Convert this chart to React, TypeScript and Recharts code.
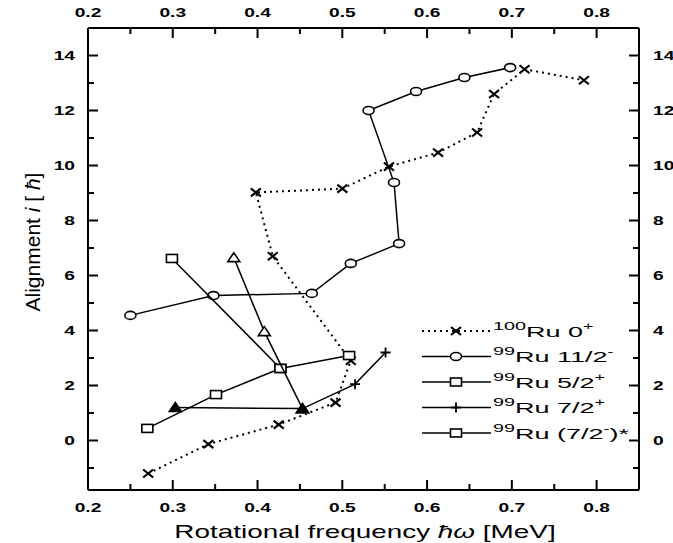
import { ScatterChart, Scatter, XAxis, YAxis } from "recharts";

const W = 673;
const H = 543;

// 100Ru 0+ band (crosses, dotted line)
const ru100X = [0.271, 0.342, 0.425, 0.492, 0.51, 0.418, 0.398, 0.5, 0.555, 0.613, 0.659, 0.679, 0.715, 0.785];
const ru100Y = [-1.2, -0.13, 0.58, 1.38, 2.9, 6.7, 9.02, 9.16, 9.96, 10.47, 11.2, 12.6, 13.5, 13.1];

// 99Ru 11/2- (open circles)
const h11X = [0.25, 0.348, 0.464, 0.51, 0.567, 0.561, 0.531, 0.587, 0.644, 0.698];
const h11Y = [4.55, 5.27, 5.35, 6.44, 7.16, 9.38, 12.0, 12.69, 13.2, 13.56];

// 99Ru 5/2+ (open squares)
const d5X = [0.27, 0.351, 0.427, 0.508];
const d5Y = [0.44, 1.67, 2.62, 3.09];

// 99Ru (7/2-)* (open squares)
const f7X = [0.299, 0.427];
const f7Y = [6.62, 2.62];

// triangles, no legend entry
const triX = [0.372, 0.408, 0.453];
const triY = [6.65, 3.96, 1.16];
const triKind = ["tri", "tri", "triFill"];

// 99Ru 7/2+ (plus, starts on the filled triangles)
const g7X = [0.303, 0.453, 0.515, 0.551];
const g7Y = [1.2, 1.16, 2.05, 3.2];
const g7Kind = ["triFill", "triFill", "plus", "plus"];

const xTicks = [0.2, 0.25, 0.3, 0.35, 0.4, 0.45, 0.5, 0.55, 0.6, 0.65, 0.7, 0.75, 0.8];
const yTicks = [-1, 0, 1, 2, 3, 4, 5, 6, 7, 8, 9, 10, 11, 12, 13, 14];

const FONT = "'Liberation Sans', Arial, sans-serif";

function zip(xs: number[], ys: number[], kind: string | string[]) {
  return xs.map((x, i) => ({
    x,
    y: ys[i],
    kind: Array.isArray(kind) ? kind[i] : kind,
  }));
}

function mark(kind: string, cx: number, cy: number) {
  switch (kind) {
    case "cross":
      return (
        <path
          d={`M${cx - 5},${cy - 4}L${cx + 5},${cy + 4}M${cx - 5},${cy + 4}L${cx + 5},${cy - 4}`}
          stroke="#000"
          strokeWidth={2.2}
        />
      );
    case "circle":
      return <ellipse cx={cx} cy={cy} rx={5.5} ry={4} fill="#fff" stroke="#000" strokeWidth={1.6} />;
    case "square":
      return <rect x={cx - 5.5} y={cy - 4} width={11} height={8} fill="#fff" stroke="#000" strokeWidth={1.6} />;
    case "tri":
    case "triFill":
      return (
        <polygon
          points={`${cx},${cy - 5} ${cx + 6},${cy + 4} ${cx - 6},${cy + 4}`}
          fill={kind === "triFill" ? "#000" : "#fff"}
          stroke="#000"
          strokeWidth={1.6}
        />
      );
    case "plus":
      return (
        <path
          d={`M${cx - 5},${cy}L${cx + 5},${cy}M${cx},${cy - 5}L${cx},${cy + 5}`}
          stroke="#000"
          strokeWidth={1.8}
        />
      );
  }
  return null;
}

const shape = (p: any) => mark(p.payload.kind, p.cx, p.cy);

function XTick(props: any) {
  const { x, y, payload, side } = props;
  const v = payload.value as number;
  const major = Math.abs(v * 10 - Math.round(v * 10)) < 1e-6;
  const len = major ? 10 : 6;
  const dir = side === "bottom" ? -1 : 1;
  return (
    <g>
      <line x1={x} y1={y} x2={x} y2={y + dir * len} stroke="#000" strokeWidth={2} />
      {major && (
        <text
          transform={`translate(${x},${side === "bottom" ? y + 22 : y - 11}) scale(1.6,1)`}
          textAnchor="middle"
          fontSize={12}
          fontWeight="bold"
          fontFamily={FONT}
          fill="#000"
        >
          {v.toFixed(1)}
        </text>
      )}
    </g>
  );
}

function YTick(props: any) {
  const { x, y, payload, side } = props;
  const v = payload.value as number;
  const major = v % 2 === 0;
  const len = major ? 10 : 6;
  const dir = side === "left" ? 1 : -1;
  return (
    <g>
      <line x1={x} y1={y} x2={x + dir * len} y2={y} stroke="#000" strokeWidth={2} />
      {major && (
        <text
          transform={`translate(${side === "left" ? x - 13 : x + 14},${y + 4.5}) scale(1.6,1)`}
          textAnchor={side === "left" ? "end" : "start"}
          fontSize={12}
          fontWeight="bold"
          fontFamily={FONT}
          fill="#000"
        >
          {v}
        </text>
      )}
    </g>
  );
}

const legendRows = [
  { kind: "cross", dotted: true, mass: "100", name: "Ru 0", sup: "+" },
  { kind: "circle", dotted: false, mass: "99", name: "Ru 11/2", sup: "-" },
  { kind: "square", dotted: false, mass: "99", name: "Ru 5/2", sup: "+" },
  { kind: "plus", dotted: false, mass: "99", name: "Ru 7/2", sup: "+" },
  { kind: "square", dotted: false, mass: "99", name: "Ru (7/2", sup: "-", tail: ")*" },
];

export default function App() {
  const axisLine = { stroke: "#000", strokeWidth: 2 };
  const series = [
    { data: zip(ru100X, ru100Y, "cross"), dash: "2 4" },
    { data: zip(h11X, h11Y, "circle") },
    { data: zip(d5X, d5Y, "square") },
    { data: zip(f7X, f7Y, "square") },
    { data: zip(triX, triY, triKind) },
    { data: zip(g7X, g7Y, g7Kind) },
  ];
  return (
    <div style={{ position: "absolute", left: 0, top: 0, width: W, height: H, background: "#fff" }}>
      <ScatterChart width={W} height={H} margin={{ top: 0, right: 0, bottom: 0, left: 0 }}>
        <XAxis
          xAxisId="b"
          type="number"
          dataKey="x"
          orientation="bottom"
          domain={[0.2, 0.85]}
          allowDataOverflow
          ticks={xTicks}
          interval={0}
          height={53}
          axisLine={axisLine}
          tickLine={false}
          tickSize={0}
          tickMargin={0}
          tick={<XTick side="bottom" />}
        />
        <XAxis
          xAxisId="t"
          type="number"
          dataKey="x"
          orientation="top"
          domain={[0.2, 0.85]}
          allowDataOverflow
          ticks={xTicks}
          interval={0}
          height={28}
          axisLine={axisLine}
          tickLine={false}
          tickSize={0}
          tickMargin={0}
          tick={<XTick side="top" />}
        />
        <YAxis
          yAxisId="l"
          type="number"
          dataKey="y"
          orientation="left"
          domain={[-1.8, 15]}
          allowDataOverflow
          ticks={yTicks}
          interval={0}
          width={88}
          axisLine={axisLine}
          tickLine={false}
          tickSize={0}
          tickMargin={0}
          tick={<YTick side="left" />}
        />
        <YAxis
          yAxisId="r"
          type="number"
          dataKey="y"
          orientation="right"
          domain={[-1.8, 15]}
          allowDataOverflow
          ticks={yTicks}
          interval={0}
          width={34}
          axisLine={axisLine}
          tickLine={false}
          tickSize={0}
          tickMargin={0}
          tick={<YTick side="right" />}
        />
        {series.map((s, i) => (
          <Scatter
            key={i}
            xAxisId="b"
            yAxisId="l"
            data={s.data}
            line={{ stroke: "#000", strokeWidth: s.dash ? 2 : 1.5, strokeDasharray: s.dash }}
            shape={shape}
            isAnimationActive={false}
          />
        ))}
      </ScatterChart>
      <svg
        width={W}
        height={H}
        style={{ position: "absolute", left: 0, top: 0, pointerEvents: "none" }}
      >
        {legendRows.map((r, i) => {
          const y = 331 + i * 25.5;
          return (
            <g key={i}>
              <line
                x1={422}
                x2={491}
                y1={y}
                y2={y}
                stroke="#000"
                strokeWidth={r.dotted ? 2 : 1.5}
                strokeDasharray={r.dotted ? "2 4" : undefined}
              />
              {mark(r.kind, 456, y)}
              <text
                transform={`translate(493,${y + 5.5}) scale(1.8,1)`}
                fontFamily={FONT}
                fontSize={15}
                fill="#000"
              >
                <tspan fontSize={11} dy={-7}>
                  {r.mass}
                </tspan>
                <tspan dy={7}>{r.name}</tspan>
                <tspan fontSize={10} dy={-7}>
                  {r.sup}
                </tspan>
                {r.tail && <tspan dy={7}>{r.tail}</tspan>}
              </text>
            </g>
          );
        })}
        <text
          transform="translate(365,538) scale(1.55,1)"
          textAnchor="middle"
          fontFamily={FONT}
          fontSize={18}
          fill="#000"
        >
          Rotational frequency <tspan fontStyle="italic">ħω</tspan> [MeV]
        </text>
        <text
          transform="translate(40,242) rotate(-90)"
          textAnchor="middle"
          fontFamily={FONT}
          fontSize={21}
          fill="#000"
        >
          Alignment <tspan fontStyle="italic">i</tspan> [ <tspan fontStyle="italic">ħ</tspan>]
        </text>
      </svg>
    </div>
  );
}
